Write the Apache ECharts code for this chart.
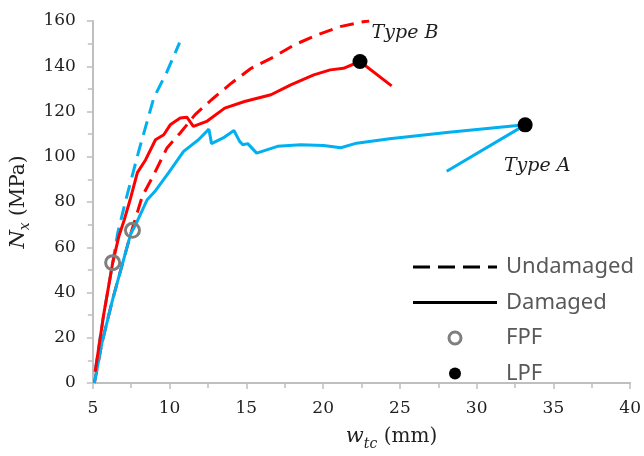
<!DOCTYPE html>
<html>
<head>
<meta charset="utf-8">
<script src="https://cdn.jsdelivr.net/npm/echarts@6.0.0/dist/echarts.min.js"></script>
<style>
  html, body { margin: 0; background: #fff; }
  #chart { width: 644px; height: 456px; }
</style>
</head>
<body>
<div id="chart"></div>
<script>
// 数据 (w_tc mm, N_x MPa)
const blueUndamaged = [[5.15, 5], [5.7, 30], [6.29, 53], [6.61, 66], [7.15, 81], [8.01, 103], [8.97, 126], [9.83, 137.6], [10.65, 150.4]];
const redUndamaged = [[5.1, 0], [5.6, 18], [6.29, 37], [6.9, 52], [7.47, 66], [8.22, 82.5], [8.97, 92.1], [9.83, 103.9], [10.69, 110.5],
    [11.66, 118.6], [12.73, 125.2], [14.02, 132.5], [15.31, 139.1], [16.81, 144.2], [18.1, 149.4], [19.61, 153.8],
    [21.11, 157.5], [22.61, 159.7], [23.0, 160]];
const blueDamaged = [[5.1, 0], [5.6, 18], [6.29, 37], [6.9, 52], [7.47, 66], [7.79, 70], [8.54, 81], [9.08, 85], [9.94, 93],
    [10.91, 102.4], [11.88, 107.5], [12.56, 112.2], [12.73, 105.8], [13.49, 108.3], [14.19, 111.6], [14.56, 106.8],
    [14.77, 105.3], [15.09, 105.8], [15.67, 101.6], [17.03, 104.6], [18.53, 105.3], [20.03, 105], [21.15, 104],
    [22.18, 106], [24.33, 108], [28.2, 110.8], [33.16, 114.1], [28.05, 93.6]];
const redDamaged = [[5.15, 5], [5.7, 30], [6.29, 53], [6.7, 65], [7.04, 72], [7.47, 82], [7.9, 93], [8.44, 98.7],
    [9.08, 107.5], [9.62, 109.7], [10.04, 114.1], [10.69, 117.1], [11.12, 117.5], [11.55, 113.4], [12.41, 115.6],
    [13.59, 121.5], [14.88, 124.4], [16.6, 127.4], [17.89, 131.8], [19.39, 136.2], [20.46, 138.4], [21.32, 139.1],
    [22.4, 142.1], [24.46, 131.3]];
const fpfPoints = [[6.29, 53.2], [7.58, 67.5]];
const lpfPoints = [[22.4, 142.1], [33.16, 114.1]];
const lpfNames = ['Type B', 'Type A'];
const legendNames = ['Undamaged', 'Damaged', 'FPF', 'LPF'];

const BLUE = '#00b0f0';
const RED = '#ff0000';
const AXIS = '#bfbfbf';
const TXT = '#1f1f1f';

// 图例线条图标 (虚线 / 实线)
const DASH_ICON = 'path://M0,0h17v3h-17z M25,0h17v3h-17z M50,0h17v3h-17z M75,0h9v3h-9z';
const SOLID_ICON = 'path://M0,0h84v3h-84z';

const chart = echarts.init(document.getElementById('chart'));

const axisCommon = {
    axisLine: { show: true, lineStyle: { color: AXIS, width: 2 } },
    axisTick: { show: true, length: 6, lineStyle: { color: AXIS, width: 1.5 } },
    minorTick: { show: true, splitNumber: 2, length: 5, lineStyle: { color: AXIS, width: 1.5 } },
    splitLine: { show: false }
};

// 轴标题的富文本 (斜体 + 下标)
const nameRich = {
    it: { fontFamily: 'DejaVu Serif', fontStyle: 'italic', fontSize: 21, color: TXT, lineHeight: 28, verticalAlign: 'middle' },
    sub: { fontFamily: 'DejaVu Serif', fontStyle: 'italic', fontSize: 14, color: TXT, lineHeight: 15, verticalAlign: 'bottom' },
    n: { fontFamily: 'DejaVu Serif', fontSize: 20, color: TXT, lineHeight: 28, verticalAlign: 'middle' }
};

const option = {
    animation: false,
    grid: { left: 90, right: 11, top: 21, bottom: 72 },
    legend: {
        data: [
            { name: legendNames[0], icon: DASH_ICON, itemStyle: { color: '#000', borderWidth: 0, opacity: 1 } },
            { name: legendNames[1], icon: SOLID_ICON, itemStyle: { color: '#000', borderWidth: 0, opacity: 1 } },
            { name: legendNames[2], icon: 'circle', itemStyle: { color: '#fff', borderColor: '#7f7f7f', borderWidth: 3, opacity: 1 } },
            { name: legendNames[3], icon: 'circle', itemStyle: { color: '#000', borderWidth: 0, opacity: 1 } }
        ],
        orient: 'vertical',
        left: 413,
        top: 256,
        padding: 0,
        itemWidth: 84,
        itemHeight: 12,
        itemGap: 13.5,
        selectedMode: false,
        textStyle: { color: '#595959', fontFamily: 'Noto Sans', fontSize: 22, lineHeight: 22, padding: [0, 0, 0, 4] }
    },
    xAxis: Object.assign({}, axisCommon, {
        type: 'value',
        min: 5,
        max: 40,
        interval: 5,
        axisLabel: { color: TXT, fontFamily: 'DejaVu Serif', fontSize: 17, margin: 17 },
        name: '{it|w}{sub|tc}{n| (mm)}',
        nameLocation: 'middle',
        nameGap: 40,
        nameTextStyle: { color: TXT, padding: [0, 0, 0, 60], rich: nameRich }
    }),
    yAxis: Object.assign({}, axisCommon, {
        type: 'value',
        min: 0,
        max: 160,
        interval: 20,
        axisLabel: { color: TXT, fontFamily: 'DejaVu Serif', fontSize: 17, margin: 17 },
        name: '{it|N}{sub|x}{n| (MPa)}',
        nameLocation: 'middle',
        nameGap: 50,
        nameTextStyle: { color: TXT, rich: nameRich }
    }),
    series: [
        // 图例用的空系列
        { name: 'Undamaged', type: 'line', data: [], symbol: 'none', lineStyle: { color: '#000', width: 3, type: [17, 8] }, itemStyle: { color: '#000' } },
        { name: 'Damaged', type: 'line', data: [], symbol: 'none', lineStyle: { color: '#000', width: 3 }, itemStyle: { color: '#000' } },
        { name: 'A-undamaged', type: 'line', data: blueUndamaged, symbol: 'none', lineStyle: { color: BLUE, width: 3, type: [14, 8] } },
        { name: 'B-undamaged', type: 'line', data: redUndamaged, symbol: 'none', lineStyle: { color: RED, width: 3, type: [14, 8] } },
        { name: 'A-damaged', type: 'line', data: blueDamaged, symbol: 'none', lineStyle: { color: BLUE, width: 3 } },
        { name: 'B-damaged', type: 'line', data: redDamaged, symbol: 'none', lineStyle: { color: RED, width: 3 } },
        {
            name: 'FPF', type: 'scatter', data: fpfPoints, symbol: 'circle', symbolSize: 14, z: 5,
            itemStyle: { color: 'rgba(255,255,255,0)', borderColor: '#7f7f7f', borderWidth: 3, opacity: 1 }
        },
        {
            name: 'LPF', type: 'scatter', symbol: 'circle', symbolSize: 15, z: 6,
            data: lpfPoints.map((p, i) => ({ value: p, name: lpfNames[i] })),
            itemStyle: { color: '#000', opacity: 1 },
            label: {
                show: true,
                position: 'inside',
                formatter: '{b}',
                fontFamily: 'DejaVu Serif',
                fontStyle: 'italic',
                fontSize: 19,
                color: TXT
            },
            labelLayout: function (params) {
                // Type B 在点的右上方, Type A 在点的下方
                if (params.dataIndex === 0) {
                    return { dx: 45, dy: -28 };
                }
                return { dx: 12, dy: 41 };
            }
        }
    ]
};

chart.setOption(option);
</script>
</body>
</html>
